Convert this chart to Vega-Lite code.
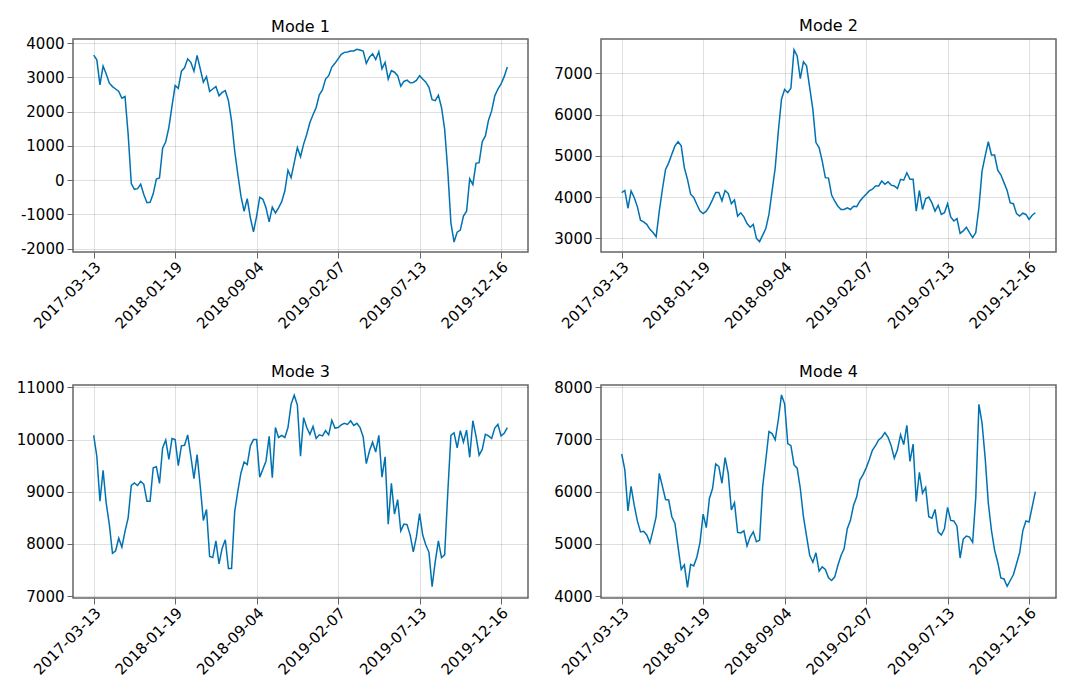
{
  "$schema": "https://vega.github.io/schema/vega-lite/v6.json",
  "background": "white",
  "padding": {"left": 15, "top": 17, "right": 10, "bottom": 10},
  "datasets": {
    "m1": [{"i":0,"v":3650},{"i":1,"v":3510},{"i":2,"v":2780},{"i":3,"v":3330},{"i":4,"v":3100},{"i":5,"v":2830},{"i":6,"v":2730},{"i":7,"v":2660},{"i":8,"v":2590},{"i":9,"v":2390},{"i":10,"v":2440},{"i":11,"v":1340},{"i":12,"v":-100},{"i":13,"v":-270},{"i":14,"v":-250},{"i":15,"v":-120},{"i":16,"v":-420},{"i":17,"v":-660},{"i":18,"v":-650},{"i":19,"v":-400},{"i":20,"v":30},{"i":21,"v":60},{"i":22,"v":930},{"i":23,"v":1120},{"i":24,"v":1540},{"i":25,"v":2170},{"i":26,"v":2760},{"i":27,"v":2680},{"i":28,"v":3180},{"i":29,"v":3280},{"i":30,"v":3540},{"i":31,"v":3440},{"i":32,"v":3180},{"i":33,"v":3640},{"i":34,"v":3250},{"i":35,"v":2860},{"i":36,"v":3020},{"i":37,"v":2590},{"i":38,"v":2660},{"i":39,"v":2730},{"i":40,"v":2460},{"i":41,"v":2560},{"i":42,"v":2610},{"i":43,"v":2320},{"i":44,"v":1730},{"i":45,"v":850},{"i":46,"v":170},{"i":47,"v":-470},{"i":48,"v":-910},{"i":49,"v":-540},{"i":50,"v":-1100},{"i":51,"v":-1510},{"i":52,"v":-1050},{"i":53,"v":-500},{"i":54,"v":-560},{"i":55,"v":-810},{"i":56,"v":-1220},{"i":57,"v":-790},{"i":58,"v":-960},{"i":59,"v":-810},{"i":60,"v":-630},{"i":61,"v":-320},{"i":62,"v":290},{"i":63,"v":70},{"i":64,"v":510},{"i":65,"v":950},{"i":66,"v":680},{"i":67,"v":1050},{"i":68,"v":1340},{"i":69,"v":1680},{"i":70,"v":1910},{"i":71,"v":2120},{"i":72,"v":2490},{"i":73,"v":2630},{"i":74,"v":2950},{"i":75,"v":3050},{"i":76,"v":3300},{"i":77,"v":3410},{"i":78,"v":3540},{"i":79,"v":3670},{"i":80,"v":3730},{"i":81,"v":3740},{"i":82,"v":3770},{"i":83,"v":3770},{"i":84,"v":3820},{"i":85,"v":3800},{"i":86,"v":3770},{"i":87,"v":3410},{"i":88,"v":3590},{"i":89,"v":3690},{"i":90,"v":3520},{"i":91,"v":3750},{"i":92,"v":3250},{"i":93,"v":3440},{"i":94,"v":2950},{"i":95,"v":3200},{"i":96,"v":3150},{"i":97,"v":3050},{"i":98,"v":2740},{"i":99,"v":2880},{"i":100,"v":2920},{"i":101,"v":2840},{"i":102,"v":2850},{"i":103,"v":2910},{"i":104,"v":3050},{"i":105,"v":2950},{"i":106,"v":2860},{"i":107,"v":2710},{"i":108,"v":2350},{"i":109,"v":2320},{"i":110,"v":2480},{"i":111,"v":2120},{"i":112,"v":1490},{"i":113,"v":270},{"i":114,"v":-1250},{"i":115,"v":-1810},{"i":116,"v":-1520},{"i":117,"v":-1460},{"i":118,"v":-1050},{"i":119,"v":-910},{"i":120,"v":40},{"i":121,"v":-130},{"i":122,"v":490},{"i":123,"v":510},{"i":124,"v":1120},{"i":125,"v":1290},{"i":126,"v":1750},{"i":127,"v":2020},{"i":128,"v":2460},{"i":129,"v":2660},{"i":130,"v":2810},{"i":131,"v":3020},{"i":132,"v":3300}],
    "m2": [{"i":0,"v":4110},{"i":1,"v":4160},{"i":2,"v":3730},{"i":3,"v":4150},{"i":4,"v":3990},{"i":5,"v":3770},{"i":6,"v":3440},{"i":7,"v":3400},{"i":8,"v":3340},{"i":9,"v":3220},{"i":10,"v":3140},{"i":11,"v":3040},{"i":12,"v":3660},{"i":13,"v":4190},{"i":14,"v":4670},{"i":15,"v":4830},{"i":16,"v":5040},{"i":17,"v":5240},{"i":18,"v":5340},{"i":19,"v":5240},{"i":20,"v":4710},{"i":21,"v":4430},{"i":22,"v":4070},{"i":23,"v":3990},{"i":24,"v":3820},{"i":25,"v":3660},{"i":26,"v":3600},{"i":27,"v":3660},{"i":28,"v":3780},{"i":29,"v":3940},{"i":30,"v":4110},{"i":31,"v":4110},{"i":32,"v":3910},{"i":33,"v":4160},{"i":34,"v":4090},{"i":35,"v":3840},{"i":36,"v":3930},{"i":37,"v":3540},{"i":38,"v":3620},{"i":39,"v":3520},{"i":40,"v":3360},{"i":41,"v":3270},{"i":42,"v":3340},{"i":43,"v":3000},{"i":44,"v":2920},{"i":45,"v":3080},{"i":46,"v":3240},{"i":47,"v":3580},{"i":48,"v":4150},{"i":49,"v":4710},{"i":50,"v":5600},{"i":51,"v":6370},{"i":52,"v":6610},{"i":53,"v":6530},{"i":54,"v":6640},{"i":55,"v":7570},{"i":56,"v":7420},{"i":57,"v":6870},{"i":58,"v":7280},{"i":59,"v":7180},{"i":60,"v":6650},{"i":61,"v":6130},{"i":62,"v":5320},{"i":63,"v":5200},{"i":64,"v":4870},{"i":65,"v":4470},{"i":66,"v":4460},{"i":67,"v":4050},{"i":68,"v":3900},{"i":69,"v":3780},{"i":70,"v":3700},{"i":71,"v":3700},{"i":72,"v":3740},{"i":73,"v":3700},{"i":74,"v":3780},{"i":75,"v":3770},{"i":76,"v":3900},{"i":77,"v":3990},{"i":78,"v":4070},{"i":79,"v":4150},{"i":80,"v":4190},{"i":81,"v":4270},{"i":82,"v":4270},{"i":83,"v":4390},{"i":84,"v":4310},{"i":85,"v":4370},{"i":86,"v":4290},{"i":87,"v":4270},{"i":88,"v":4210},{"i":89,"v":4430},{"i":90,"v":4410},{"i":91,"v":4590},{"i":92,"v":4430},{"i":93,"v":4430},{"i":94,"v":3660},{"i":95,"v":4160},{"i":96,"v":3700},{"i":97,"v":3960},{"i":98,"v":4000},{"i":99,"v":3860},{"i":100,"v":3660},{"i":101,"v":3800},{"i":102,"v":3580},{"i":103,"v":3620},{"i":104,"v":3840},{"i":105,"v":3520},{"i":106,"v":3420},{"i":107,"v":3480},{"i":108,"v":3120},{"i":109,"v":3180},{"i":110,"v":3270},{"i":111,"v":3140},{"i":112,"v":3020},{"i":113,"v":3140},{"i":114,"v":3750},{"i":115,"v":4630},{"i":116,"v":5000},{"i":117,"v":5340},{"i":118,"v":5020},{"i":119,"v":5020},{"i":120,"v":4650},{"i":121,"v":4540},{"i":122,"v":4350},{"i":123,"v":4160},{"i":124,"v":3860},{"i":125,"v":3840},{"i":126,"v":3600},{"i":127,"v":3540},{"i":128,"v":3610},{"i":129,"v":3580},{"i":130,"v":3460},{"i":131,"v":3560},{"i":132,"v":3620}],
    "m3": [{"i":0,"v":10080},{"i":1,"v":9680},{"i":2,"v":8820},{"i":3,"v":9410},{"i":4,"v":8780},{"i":5,"v":8370},{"i":6,"v":7820},{"i":7,"v":7870},{"i":8,"v":8110},{"i":9,"v":7940},{"i":10,"v":8240},{"i":11,"v":8500},{"i":12,"v":9120},{"i":13,"v":9170},{"i":14,"v":9120},{"i":15,"v":9200},{"i":16,"v":9140},{"i":17,"v":8820},{"i":18,"v":8820},{"i":19,"v":9460},{"i":20,"v":9480},{"i":21,"v":9160},{"i":22,"v":9840},{"i":23,"v":9990},{"i":24,"v":9620},{"i":25,"v":10020},{"i":26,"v":10000},{"i":27,"v":9500},{"i":28,"v":9880},{"i":29,"v":9890},{"i":30,"v":10090},{"i":31,"v":9680},{"i":32,"v":9250},{"i":33,"v":9710},{"i":34,"v":9110},{"i":35,"v":8450},{"i":36,"v":8660},{"i":37,"v":7760},{"i":38,"v":7740},{"i":39,"v":8060},{"i":40,"v":7620},{"i":41,"v":7920},{"i":42,"v":8080},{"i":43,"v":7530},{"i":44,"v":7530},{"i":45,"v":8620},{"i":46,"v":9010},{"i":47,"v":9360},{"i":48,"v":9570},{"i":49,"v":9520},{"i":50,"v":9880},{"i":51,"v":10000},{"i":52,"v":10000},{"i":53,"v":9280},{"i":54,"v":9430},{"i":55,"v":9590},{"i":56,"v":10060},{"i":57,"v":9270},{"i":58,"v":10230},{"i":59,"v":10040},{"i":60,"v":10080},{"i":61,"v":10040},{"i":62,"v":10230},{"i":63,"v":10680},{"i":64,"v":10850},{"i":65,"v":10660},{"i":66,"v":9680},{"i":67,"v":10420},{"i":68,"v":10230},{"i":69,"v":10100},{"i":70,"v":10250},{"i":71,"v":10020},{"i":72,"v":10090},{"i":73,"v":10070},{"i":74,"v":10170},{"i":75,"v":10090},{"i":76,"v":10370},{"i":77,"v":10220},{"i":78,"v":10230},{"i":79,"v":10280},{"i":80,"v":10310},{"i":81,"v":10290},{"i":82,"v":10360},{"i":83,"v":10270},{"i":84,"v":10310},{"i":85,"v":10230},{"i":86,"v":10050},{"i":87,"v":9540},{"i":88,"v":9780},{"i":89,"v":9950},{"i":90,"v":9760},{"i":91,"v":10080},{"i":92,"v":9280},{"i":93,"v":9670},{"i":94,"v":8380},{"i":95,"v":9160},{"i":96,"v":8570},{"i":97,"v":8850},{"i":98,"v":8250},{"i":99,"v":8380},{"i":100,"v":8370},{"i":101,"v":8170},{"i":102,"v":7850},{"i":103,"v":8140},{"i":104,"v":8580},{"i":105,"v":8170},{"i":106,"v":7980},{"i":107,"v":7840},{"i":108,"v":7180},{"i":109,"v":7660},{"i":110,"v":8060},{"i":111,"v":7740},{"i":112,"v":7790},{"i":113,"v":8980},{"i":114,"v":10080},{"i":115,"v":10130},{"i":116,"v":9840},{"i":117,"v":10170},{"i":118,"v":9950},{"i":119,"v":10180},{"i":120,"v":9660},{"i":121,"v":10360},{"i":122,"v":10070},{"i":123,"v":9700},{"i":124,"v":9810},{"i":125,"v":10100},{"i":126,"v":10070},{"i":127,"v":10020},{"i":128,"v":10220},{"i":129,"v":10290},{"i":130,"v":10070},{"i":131,"v":10120},{"i":132,"v":10230}],
    "m4": [{"i":0,"v":6720},{"i":1,"v":6420},{"i":2,"v":5630},{"i":3,"v":6100},{"i":4,"v":5740},{"i":5,"v":5440},{"i":6,"v":5230},{"i":7,"v":5240},{"i":8,"v":5170},{"i":9,"v":5020},{"i":10,"v":5260},{"i":11,"v":5520},{"i":12,"v":6350},{"i":13,"v":6100},{"i":14,"v":5850},{"i":15,"v":5840},{"i":16,"v":5520},{"i":17,"v":5390},{"i":18,"v":4940},{"i":19,"v":4510},{"i":20,"v":4600},{"i":21,"v":4170},{"i":22,"v":4610},{"i":23,"v":4580},{"i":24,"v":4750},{"i":25,"v":5030},{"i":26,"v":5570},{"i":27,"v":5310},{"i":28,"v":5870},{"i":29,"v":6060},{"i":30,"v":6530},{"i":31,"v":6480},{"i":32,"v":6160},{"i":33,"v":6650},{"i":34,"v":6350},{"i":35,"v":5650},{"i":36,"v":5790},{"i":37,"v":5220},{"i":38,"v":5210},{"i":39,"v":5250},{"i":40,"v":4960},{"i":41,"v":5130},{"i":42,"v":5230},{"i":43,"v":5040},{"i":44,"v":5070},{"i":45,"v":6100},{"i":46,"v":6610},{"i":47,"v":7150},{"i":48,"v":7110},{"i":49,"v":6990},{"i":50,"v":7380},{"i":51,"v":7850},{"i":52,"v":7680},{"i":53,"v":6920},{"i":54,"v":6880},{"i":55,"v":6510},{"i":56,"v":6450},{"i":57,"v":6060},{"i":58,"v":5520},{"i":59,"v":5150},{"i":60,"v":4780},{"i":61,"v":4650},{"i":62,"v":4830},{"i":63,"v":4480},{"i":64,"v":4560},{"i":65,"v":4510},{"i":66,"v":4350},{"i":67,"v":4300},{"i":68,"v":4370},{"i":69,"v":4590},{"i":70,"v":4780},{"i":71,"v":4910},{"i":72,"v":5290},{"i":73,"v":5450},{"i":74,"v":5740},{"i":75,"v":5900},{"i":76,"v":6220},{"i":77,"v":6320},{"i":78,"v":6450},{"i":79,"v":6610},{"i":80,"v":6790},{"i":81,"v":6880},{"i":82,"v":6990},{"i":83,"v":7040},{"i":84,"v":7130},{"i":85,"v":7040},{"i":86,"v":6880},{"i":87,"v":6640},{"i":88,"v":6800},{"i":89,"v":7090},{"i":90,"v":6900},{"i":91,"v":7270},{"i":92,"v":6580},{"i":93,"v":6910},{"i":94,"v":5810},{"i":95,"v":6370},{"i":96,"v":5970},{"i":97,"v":6080},{"i":98,"v":5520},{"i":99,"v":5490},{"i":100,"v":5660},{"i":101,"v":5230},{"i":102,"v":5170},{"i":103,"v":5290},{"i":104,"v":5700},{"i":105,"v":5450},{"i":106,"v":5440},{"i":107,"v":5340},{"i":108,"v":4730},{"i":109,"v":5090},{"i":110,"v":5150},{"i":111,"v":5130},{"i":112,"v":5030},{"i":113,"v":5890},{"i":114,"v":7670},{"i":115,"v":7310},{"i":116,"v":6640},{"i":117,"v":5780},{"i":118,"v":5260},{"i":119,"v":4880},{"i":120,"v":4650},{"i":121,"v":4350},{"i":122,"v":4330},{"i":123,"v":4190},{"i":124,"v":4300},{"i":125,"v":4410},{"i":126,"v":4620},{"i":127,"v":4830},{"i":128,"v":5250},{"i":129,"v":5440},{"i":130,"v":5420},{"i":131,"v":5710},{"i":132,"v":6000}]
  },
  "columns": 2,
  "spacing": {"row": 133, "column": 73},
  "bounds": "flush",
  "concat": [
    {
      "title": {"text": "Mode 1", "dy": 3.4},
      "width": 455, "height": 213,
      "data": {"name": "m1"},
      "mark": {"type": "line", "color": "#0072B2", "strokeWidth": 1.5, "clip": true},
      "encoding": {
        "x": {"field": "i", "type": "quantitative", "scale": {"domain": [-6.6, 138.6], "nice": false, "zero": false},
          "axis": {"title": null, "values": [0, 26, 52, 78, 104, 130], "labelAngle": -45, "labelAlign": "right", "labelBaseline": "middle", "labelPadding": 6, "labelOffset": 4,
            "labelExpr": "datum.value == 0 ? '2017-03-13' : datum.value == 26 ? '2018-01-19' : datum.value == 52 ? '2018-09-04' : datum.value == 78 ? '2019-02-07' : datum.value == 104 ? '2019-07-13' : '2019-12-16'"}},
        "y": {"field": "v", "type": "quantitative", "scale": {"domain": [-2100, 4120], "nice": false, "zero": false},
          "axis": {"title": null, "values": [-2000, -1000, 0, 1000, 2000, 3000, 4000], "labelExpr": "datum.value + ''"}}
      }
    },
    {
      "title": {"text": "Mode 2", "dy": 0},
      "width": 455, "height": 213,
      "data": {"name": "m2"},
      "mark": {"type": "line", "color": "#0072B2", "strokeWidth": 1.5, "clip": true},
      "encoding": {
        "x": {"field": "i", "type": "quantitative", "scale": {"domain": [-6.6, 138.6], "nice": false, "zero": false},
          "axis": {"title": null, "values": [0, 26, 52, 78, 104, 130], "labelAngle": -45, "labelAlign": "right", "labelBaseline": "middle", "labelPadding": 6, "labelOffset": 4,
            "labelExpr": "datum.value == 0 ? '2017-03-13' : datum.value == 26 ? '2018-01-19' : datum.value == 52 ? '2018-09-04' : datum.value == 78 ? '2019-02-07' : datum.value == 104 ? '2019-07-13' : '2019-12-16'"}},
        "y": {"field": "v", "type": "quantitative", "scale": {"domain": [2670, 7830], "nice": false, "zero": false},
          "axis": {"title": null, "values": [3000, 4000, 5000, 6000, 7000], "labelExpr": "datum.value + ''"}}
      }
    },
    {
      "title": {"text": "Mode 3", "dy": 5.15},
      "width": 455, "height": 213,
      "data": {"name": "m3"},
      "mark": {"type": "line", "color": "#0072B2", "strokeWidth": 1.5, "clip": true},
      "encoding": {
        "x": {"field": "i", "type": "quantitative", "scale": {"domain": [-6.6, 138.6], "nice": false, "zero": false},
          "axis": {"title": null, "values": [0, 26, 52, 78, 104, 130], "labelAngle": -45, "labelAlign": "right", "labelBaseline": "middle", "labelPadding": 6, "labelOffset": 4,
            "labelExpr": "datum.value == 0 ? '2017-03-13' : datum.value == 26 ? '2018-01-19' : datum.value == 52 ? '2018-09-04' : datum.value == 78 ? '2019-02-07' : datum.value == 104 ? '2019-07-13' : '2019-12-16'"}},
        "y": {"field": "v", "type": "quantitative", "scale": {"domain": [6965, 11045], "nice": false, "zero": false},
          "axis": {"title": null, "values": [7000, 8000, 9000, 10000, 11000], "labelExpr": "datum.value + ''"}}
      }
    },
    {
      "title": {"text": "Mode 4", "dy": 5.4},
      "width": 455, "height": 213,
      "data": {"name": "m4"},
      "mark": {"type": "line", "color": "#0072B2", "strokeWidth": 1.5, "clip": true},
      "encoding": {
        "x": {"field": "i", "type": "quantitative", "scale": {"domain": [-6.6, 138.6], "nice": false, "zero": false},
          "axis": {"title": null, "values": [0, 26, 52, 78, 104, 130], "labelAngle": -45, "labelAlign": "right", "labelBaseline": "middle", "labelPadding": 6, "labelOffset": 4,
            "labelExpr": "datum.value == 0 ? '2017-03-13' : datum.value == 26 ? '2018-01-19' : datum.value == 52 ? '2018-09-04' : datum.value == 78 ? '2019-02-07' : datum.value == 104 ? '2019-07-13' : '2019-12-16'"}},
        "y": {"field": "v", "type": "quantitative", "scale": {"domain": [3965, 8040], "nice": false, "zero": false},
          "axis": {"title": null, "values": [4000, 5000, 6000, 7000, 8000], "labelExpr": "datum.value + ''"}}
      }
    }
  ],
  "config": {
    "font": "DejaVu Sans",
    "view": {"stroke": "#666666", "strokeWidth": 1.5},
    "axis": {"domain": false, "grid": true, "gridColor": "#000000", "gridOpacity": 0.12, "gridWidth": 1, "tickColor": "#666666", "tickSize": 6, "tickWidth": 1, "labelFontSize": 15, "labelColor": "#000000", "labelPadding": 3, "labelFont": "DejaVu Sans"},
    "title": {"fontSize": 16, "fontWeight": "normal", "font": "DejaVu Sans", "color": "#000000", "offset": 5, "frame": "group"}
  }
}
